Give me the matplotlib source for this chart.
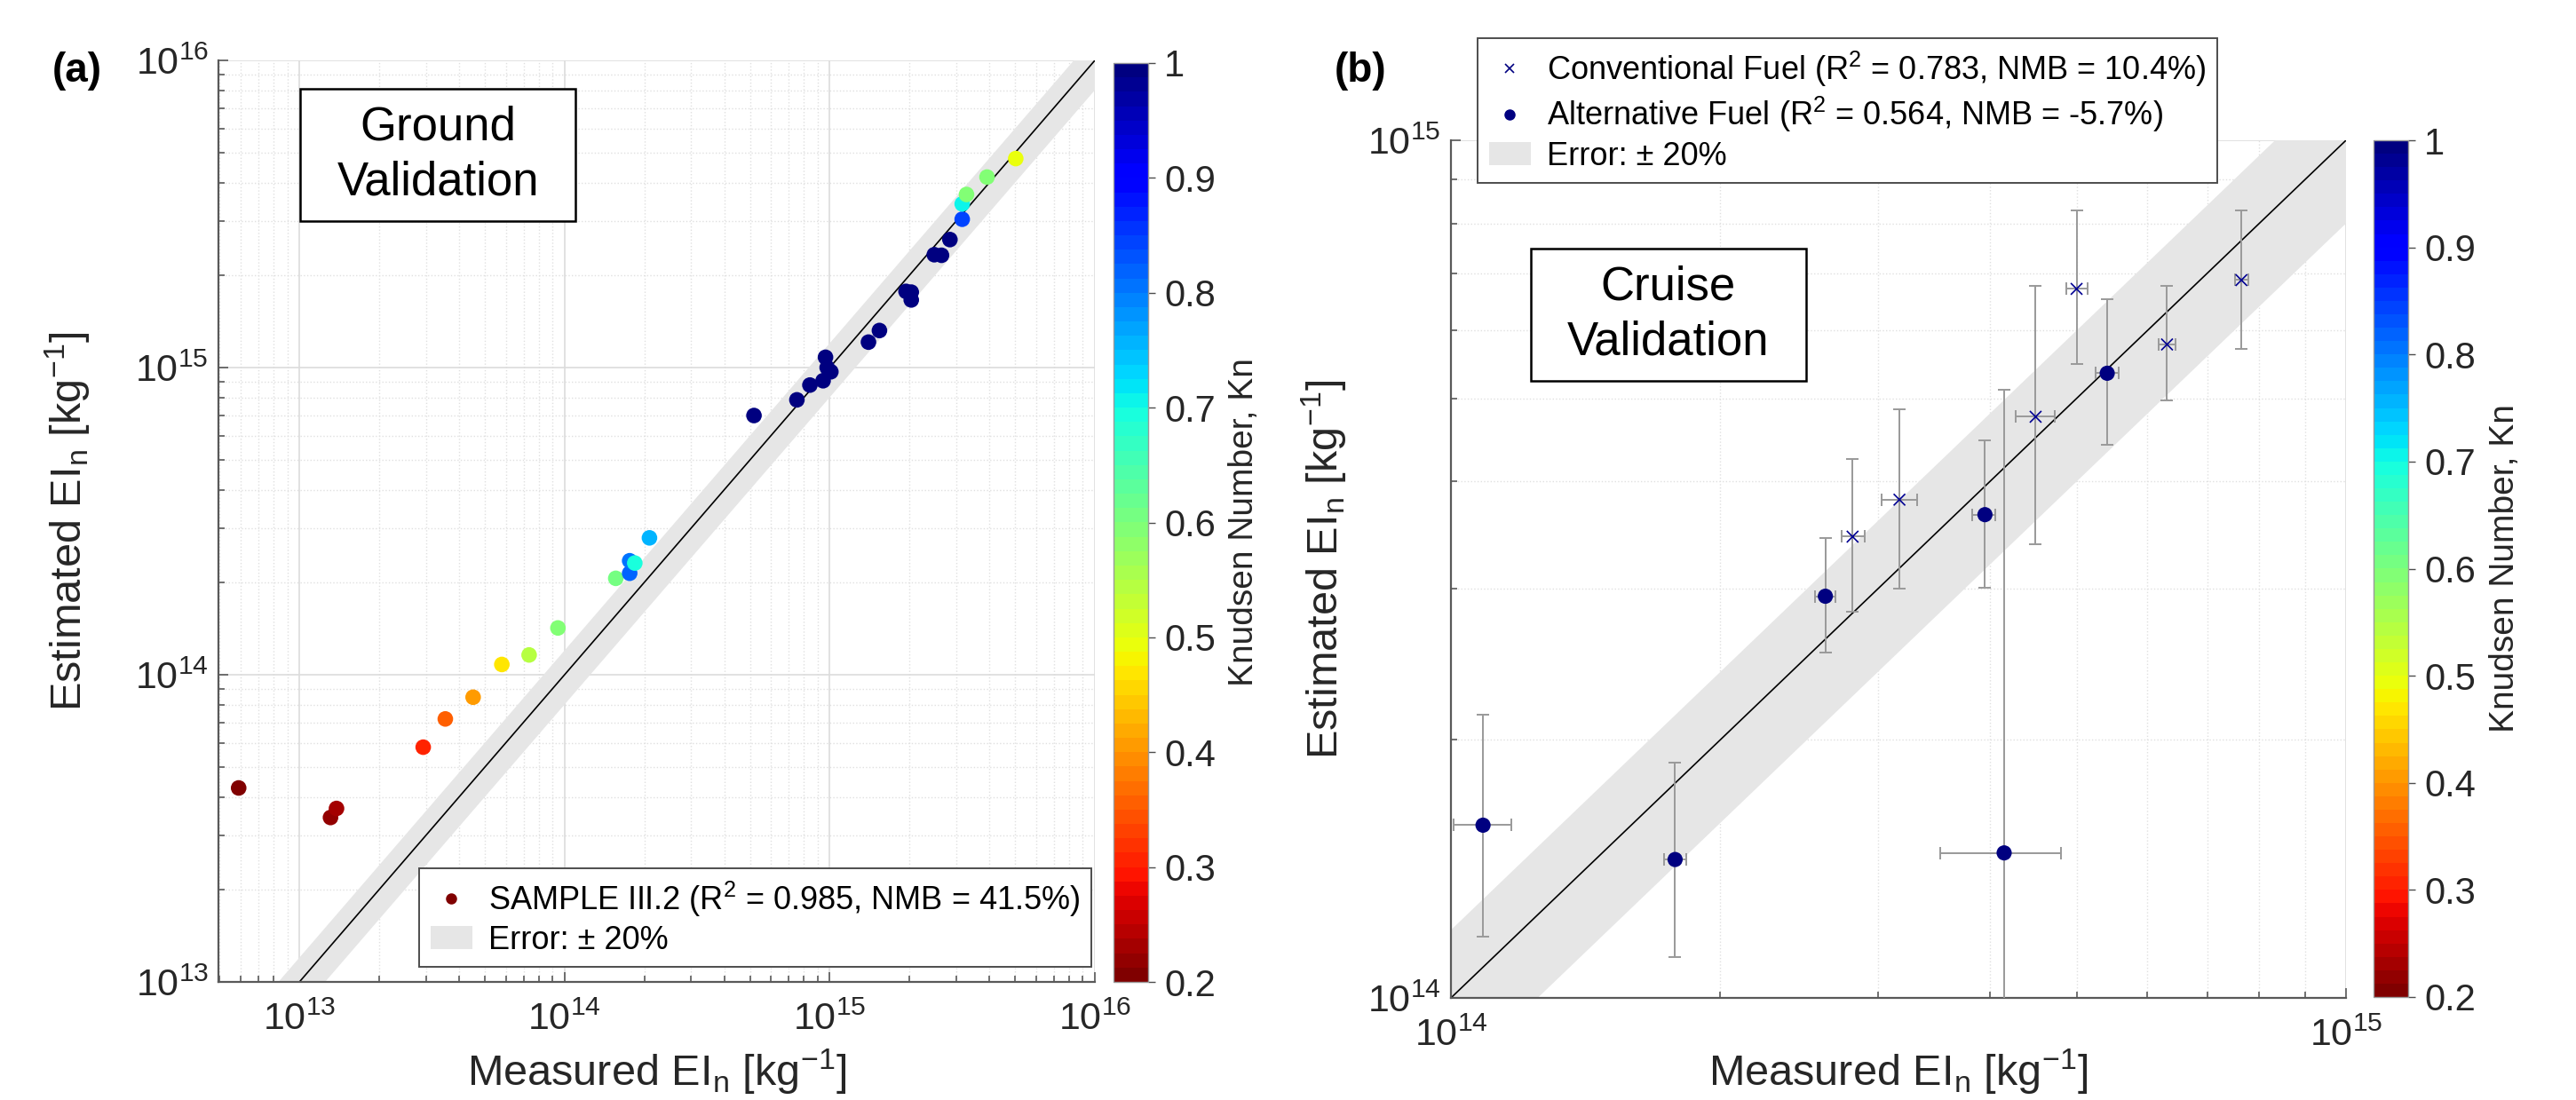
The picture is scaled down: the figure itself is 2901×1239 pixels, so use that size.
import matplotlib
matplotlib.use('Agg')
import matplotlib.pyplot as plt
import numpy as np
from matplotlib.patches import Rectangle, Patch
from matplotlib.lines import Line2D
from matplotlib.ticker import LogLocator, NullFormatter, FixedLocator

plt.rcParams['font.family'] = ['Liberation Sans', 'DejaVu Sans']
plt.rcParams['mathtext.fontset'] = 'custom'
plt.rcParams['mathtext.rm'] = 'Liberation Sans'
plt.rcParams['mathtext.it'] = 'Liberation Sans:italic'
plt.rcParams['mathtext.bf'] = 'Liberation Sans:bold'

# (a) ground validation, SAMPLE III.2
ground_meas = [5.9e12, 1.31e13, 1.38e13, 2.93e13, 3.55e13, 4.52e13, 5.8e13, 7.35e13,
               9.44e13, 1.56e14, 1.76e14, 1.76e14, 1.84e14, 2.09e14, 5.18e14, 7.52e14,
               8.42e14, 9.44e14, 9.78e14, 9.64e14, 1.01e15, 1.40e15, 1.54e15, 1.94e15,
               2.03e15, 2.03e15, 2.48e15, 2.64e15, 2.84e15, 3.16e15, 3.16e15, 3.28e15,
               3.92e15, 5.03e15]
ground_est = [4.28e13, 3.43e13, 3.67e13, 5.81e13, 7.18e13, 8.45e13, 1.08e14, 1.16e14,
              1.42e14, 2.06e14, 2.14e14, 2.35e14, 2.31e14, 2.79e14, 6.98e14, 7.85e14,
              8.77e14, 9.06e14, 1.00e15, 1.08e15, 9.69e14, 1.21e15, 1.32e15, 1.77e15,
              1.76e15, 1.66e15, 2.33e15, 2.32e15, 2.61e15, 3.04e15, 3.41e15, 3.66e15,
              4.17e15, 4.79e15]
ground_kn = [0.21, 0.22, 0.23, 0.31, 0.36, 0.41, 0.47, 0.54,
             0.60, 0.61, 0.82, 0.80, 0.70, 0.76, 1.0, 1.0,
             1.0, 1.0, 1.0, 1.0, 1.0, 1.0, 1.0, 1.0,
             1.0, 1.0, 1.0, 1.0, 0.99, 0.85, 0.71, 0.59,
             0.59, 0.49]

# (b) cruise validation
conv_meas = [2.81e14, 3.17e14, 4.50e14, 5.00e14, 6.31e14, 7.64e14]
conv_meas_lo = [2.73e14, 3.03e14, 4.28e14, 4.87e14, 6.18e14, 7.52e14]
conv_meas_hi = [2.90e14, 3.32e14, 4.73e14, 5.14e14, 6.45e14, 7.78e14]
conv_est = [3.45e14, 3.81e14, 4.76e14, 6.71e14, 5.78e14, 6.87e14]
conv_est_lo = [2.82e14, 3.00e14, 3.38e14, 5.48e14, 4.97e14, 5.71e14]
conv_est_hi = [4.25e14, 4.86e14, 6.77e14, 8.28e14, 6.76e14, 8.28e14]
conv_kn = [0.98, 0.98, 0.98, 0.98, 0.98, 0.98]

alt_meas = [1.086e14, 1.78e14, 2.62e14, 3.95e14, 4.15e14, 5.41e14]
alt_meas_lo = [1.006e14, 1.73e14, 2.55e14, 3.82e14, 3.52e14, 5.25e14]
alt_meas_hi = [1.167e14, 1.83e14, 2.69e14, 4.06e14, 4.80e14, 5.57e14]
alt_est = [1.59e14, 1.45e14, 2.94e14, 3.66e14, 1.476e14, 5.35e14]
alt_est_lo = [1.18e14, 1.115e14, 2.53e14, 3.01e14, 8.0e13, 4.42e14]
alt_est_hi = [2.14e14, 1.88e14, 3.44e14, 4.47e14, 5.12e14, 6.52e14]
alt_kn = [1.0, 1.0, 1.0, 1.0, 1.0, 1.0]

kn_ticks = [0.2, 0.3, 0.4, 0.5, 0.6, 0.7, 0.8, 0.9, 1.0]
kn_labels = ['0.2', '0.3', '0.4', '0.5', '0.6', '0.7', '0.8', '0.9', '1']

cmap = plt.get_cmap('jet_r', 64)
W, H = 2901, 1239
fig = plt.figure(figsize=(W / 200, H / 200), dpi=200)

xlab = 'Measured EI$_\\mathrm{n}$ [kg$^{-1}$]'
ylab = 'Estimated EI$_\\mathrm{n}$ [kg$^{-1}$]'


def px_axes(l, t, r, b):
    return fig.add_axes([l / W, 1 - b / H, (r - l) / W, (b - t) / H])


def style_axes(ax):
    ax.set_xscale('log')
    ax.set_yscale('log')
    for s in ['top', 'right']:
        ax.spines[s].set_visible(False)
    for s in ['left', 'bottom']:
        ax.spines[s].set_color('0.35')
        ax.spines[s].set_linewidth(0.8)
    ax.tick_params(which='both', direction='in', colors='0.35', labelcolor='0.15',
                   labelsize=15.5, width=0.6)
    ax.tick_params(which='major', length=4)
    ax.tick_params(which='minor', length=2.5)
    ax.tick_params(axis='y', pad=4)
    ax.tick_params(axis='x', pad=8)
    ax.xaxis.set_minor_formatter(NullFormatter())
    ax.yaxis.set_minor_formatter(NullFormatter())
    ax.grid(True, which='major', color='0.86', lw=0.6)
    ax.grid(True, which='minor', color='0.88', lw=0.5, ls=':')
    ax.set_axisbelow(True)


def add_band(ax, lo, hi):
    xx = np.logspace(np.log10(lo) - 1, np.log10(hi) + 1, 200)
    ax.fill_between(xx, 0.8 * xx, 1.2 * xx, color='#e6e6e6', lw=0, zorder=1)
    ax.plot(xx, xx, color='k', lw=0.6, zorder=2)


def add_cbar(sc, l, t, r, b, label_x):
    cax = px_axes(l, t, r, b)
    cb = fig.colorbar(sc, cax=cax)
    cb.set_ticks(kn_ticks)
    cb.set_ticklabels(kn_labels)
    cb.outline.set_edgecolor('0.6')
    cb.outline.set_linewidth(0.5)
    cax.tick_params(labelsize=15, length=3, width=0.5, colors='0.3', labelcolor='0.15')
    cb.set_label('Knudsen Number, Kn', fontsize=14, color='0.15')
    cax.yaxis.set_label_coords((label_x - l) / (r - l), 0.5)
    return cb


# ---------- panel (a)
ax1 = px_axes(246, 68, 1233, 1106)
style_axes(ax1)
add_band(ax1, 5e12, 1e16)
sc1 = ax1.scatter(ground_meas, ground_est, c=ground_kn, cmap=cmap, vmin=0.2, vmax=1,
                  s=40, edgecolors='none', zorder=3)
ax1.set_xlim(4.95e12, 1e16)
ax1.set_ylim(1e13, 1e16)
ax1.xaxis.set_major_locator(LogLocator(base=10, numticks=10))
ax1.yaxis.set_major_locator(FixedLocator([1e13, 1e14, 1e15, 1e16]))
ax1.set_ylabel(ylab, fontsize=17.5, color='0.15')
ax1.yaxis.set_label_coords((104 - 246) / 987, 0.5)
fig.text((246 + 1233) / 2 / W, 4 / H, xlab, fontsize=17.5, color='0.15',
         ha='center', va='bottom')

ax1.add_patch(Rectangle((0.0935, 0.826), 0.314, 0.143, transform=ax1.transAxes,
                        facecolor='white', edgecolor='k', lw=0.9, zorder=5))
ax1.text(0.2505, 0.8975, 'Ground\nValidation', transform=ax1.transAxes, fontsize=19,
         ha='center', va='center', linespacing=1.3, zorder=6)

h1 = [Line2D([], [], ls='none', marker='o', ms=3.5, color=cmap((ground_kn[0] - 0.2) / 0.8)),
      Patch(facecolor='#e6e6e6', edgecolor='none')]
leg1 = ax1.legend(h1, ['SAMPLE III.2 (R$^2$ = 0.985, NMB = 41.5%)', 'Error: \u00b1 20%'],
                  loc='lower right', bbox_to_anchor=(0.996, 0.016), borderaxespad=0,
                  fontsize=13, fancybox=False, edgecolor='0.3', framealpha=1,
                  handlelength=1.3, handletextpad=0.5, borderpad=0.35, labelspacing=0.2)
leg1.get_frame().set_linewidth(0.7)

add_cbar(sc1, 1254, 71, 1293, 1106, 1383)
fig.text(87 / W, 1 - 80 / H, '(a)', fontsize=16.5, fontweight='bold', ha='center', va='center')

# ---------- panel (b)
ax2 = px_axes(1634, 158, 2642, 1124)
style_axes(ax2)
add_band(ax2, 1e14, 1e15)
ax2.errorbar(conv_meas, conv_est,
             yerr=[np.subtract(conv_est, conv_est_lo), np.subtract(conv_est_hi, conv_est)],
             xerr=[np.subtract(conv_meas, conv_meas_lo), np.subtract(conv_meas_hi, conv_meas)],
             fmt='none', ecolor='0.6', elinewidth=0.7, capsize=2.5, capthick=0.7, zorder=3)
ax2.errorbar(alt_meas, alt_est,
             yerr=[np.subtract(alt_est, alt_est_lo), np.subtract(alt_est_hi, alt_est)],
             xerr=[np.subtract(alt_meas, alt_meas_lo), np.subtract(alt_meas_hi, alt_meas)],
             fmt='none', ecolor='0.6', elinewidth=0.7, capsize=2.5, capthick=0.7, zorder=3)
ax2.scatter(conv_meas, conv_est, c=conv_kn, cmap=cmap, vmin=0.2, vmax=1, marker='x',
            s=22, linewidths=0.6, zorder=4)
sc2 = ax2.scatter(alt_meas, alt_est, c=alt_kn, cmap=cmap, vmin=0.2, vmax=1, marker='o',
                  s=38, edgecolors='none', zorder=4)
ax2.set_xlim(1e14, 1e15)
ax2.set_ylim(1e14, 1e15)
ax2.xaxis.set_major_locator(FixedLocator([1e14, 1e15]))
ax2.yaxis.set_major_locator(FixedLocator([1e14, 1e15]))
ax2.set_ylabel(ylab, fontsize=17.5, color='0.15')
ax2.yaxis.set_label_coords((1519 - 1634) / 1008, 0.5)
fig.text((1634 + 2642) / 2 / W, 4 / H, xlab, fontsize=17.5, color='0.15',
         ha='center', va='bottom')

ax2.add_patch(Rectangle((0.0895, 0.7195), 0.3071, 0.1542, transform=ax2.transAxes,
                        facecolor='white', edgecolor='k', lw=0.9, zorder=5))
ax2.text(0.243, 0.7966, 'Cruise\nValidation', transform=ax2.transAxes, fontsize=19,
         ha='center', va='center', linespacing=1.3, zorder=6)

navy = cmap(1.0)
h2 = [Line2D([], [], ls='none', marker='x', ms=3.5, mew=0.6, color=navy),
      Line2D([], [], ls='none', marker='o', ms=3.5, color=navy),
      Patch(facecolor='#e6e6e6', edgecolor='none')]
leg2 = ax2.legend(h2, ['Conventional Fuel (R$^2$ = 0.783, NMB = 10.4%)',
                       'Alternative Fuel (R$^2$ = 0.564, NMB = -5.7%)',
                       'Error: \u00b1 20%'],
                  loc='upper left', bbox_to_anchor=(0.03, 1.119), borderaxespad=0,
                  fontsize=13, fancybox=False, edgecolor='0.3', framealpha=1,
                  handlelength=1.3, handletextpad=0.5, borderpad=0.35, labelspacing=0.2)
leg2.get_frame().set_linewidth(0.7)
leg2.set_zorder(10)

add_cbar(sc2, 2673, 158, 2712, 1123, 2803)
fig.text(1532 / W, 1 - 80 / H, '(b)', fontsize=16.5, fontweight='bold', ha='center', va='center')

fig.savefig('out.png', dpi=200)
